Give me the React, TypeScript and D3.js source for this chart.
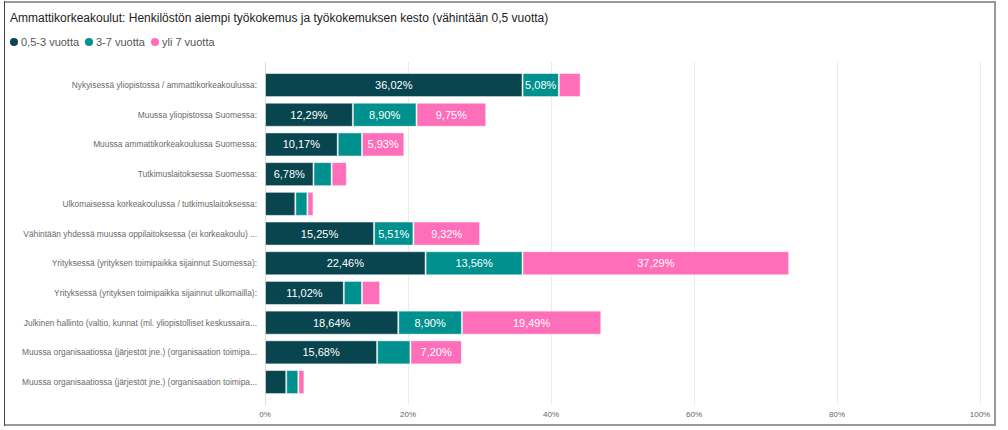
import React, { useRef, useEffect } from 'react';
import * as d3 from 'd3';

const title = 'Ammattikorkeakoulut: Henkilöstön aiempi työkokemus ja työkokemuksen kesto (vähintään 0,5 vuotta)';

const categories = [
  'Nykyisessä yliopistossa / ammattikorkeakoulussa:',
  'Muussa yliopistossa Suomessa:',
  'Muussa ammattikorkeakoulussa Suomessa:',
  'Tutkimuslaitoksessa Suomessa:',
  'Ulkomaisessa korkeakoulussa / tutkimuslaitoksessa:',
  'Vähintään yhdessä muussa oppilaitoksessa (ei korkeakoulu) ...',
  'Yrityksessä (yrityksen toimipaikka sijainnut Suomessa):',
  'Yrityksessä (yrityksen toimipaikka sijainnut ulkomailla):',
  'Julkinen hallinto (valtio, kunnat (ml. yliopistolliset keskussaira...',
  'Muussa organisaatiossa (järjestöt jne.) (organisaation toimipa...',
  'Muussa organisaatiossa (järjestöt jne.) (organisaation toimipa...',
];

const seriesNames = ['0,5-3 vuotta', '3-7 vuotta', 'yli 7 vuotta'];
const short = [36.02, 12.29, 10.17, 6.78, 4.24, 15.25, 22.46, 11.02, 18.64, 15.68, 2.97];
const middle = [5.08, 8.9, 3.39, 2.54, 1.69, 5.51, 13.56, 2.54, 8.9, 4.66, 1.69];
const long = [3.05, 9.75, 5.93, 2.12, 0.85, 9.32, 37.29, 2.54, 19.49, 7.2, 0.85];
const xTicks = [0, 20, 40, 60, 80, 100];
const colors = ['#08454f', '#00908e', '#ff6eb9'];

const W = 1008;
const H = 430;

const App: React.FC = () => {
  const ref = useRef<SVGSVGElement | null>(null);

  useEffect(() => {
    if (!ref.current) return;
    const svg = d3.select(ref.current);
    svg.selectAll('*').remove();
    const font = '"Liberation Sans", Arial, sans-serif';

    // frame
    svg.append('rect').attr('width', W).attr('height', H).attr('fill', '#fff');
    svg.append('line').attr('x1', 4).attr('x2', 996).attr('y1', 2).attr('y2', 2)
      .attr('stroke', '#999').attr('stroke-width', 2);
    svg.append('line').attr('x1', 995).attr('x2', 995).attr('y1', 1).attr('y2', 426)
      .attr('stroke', '#999').attr('stroke-width', 2);
    svg.append('line').attr('x1', 4).attr('x2', 996).attr('y1', 425).attr('y2', 425)
      .attr('stroke', '#999').attr('stroke-width', 2);
    svg.append('line').attr('x1', 4.5).attr('x2', 4.5).attr('y1', 1).attr('y2', 426)
      .attr('stroke', '#444').attr('stroke-width', 1);

    svg.append('text').attr('x', 10).attr('y', 22).attr('font-family', font)
      .attr('font-size', 12).attr('fill', '#222').text(title);

    // legend
    const legend = svg.append('g').attr('font-family', font).attr('font-size', 11).attr('fill', '#555');
    const legendX = [14, 89, 155];
    seriesNames.forEach((name, i) => {
      legend.append('circle').attr('cx', legendX[i]).attr('cy', 42).attr('r', 4).attr('fill', colors[i]);
      legend.append('text').attr('x', legendX[i] + 7).attr('y', 46).attr('fill', '#555').text(name);
    });

    const x = d3.scaleLinear().domain([0, 100]).range([265, 980]);
    const y = d3.scaleBand<string>()
      .domain(categories.map((_, i) => String(i)))
      .range([70.2, 396.9])
      .paddingInner(0.19)
      .paddingOuter(0.095);

    // grid
    svg.append('g').selectAll('line').data(xTicks).enter().append('line')
      .attr('x1', d => x(d) + 0.5).attr('x2', d => x(d) + 0.5)
      .attr('y1', 62).attr('y2', 405)
      .attr('stroke', d => (d === 0 ? '#ddd' : '#ebebeb')).attr('stroke-width', 1);

    svg.append('g').selectAll('text').data(xTicks).enter().append('text')
      .attr('x', d => x(d)).attr('y', 417).attr('text-anchor', 'middle')
      .attr('font-family', font).attr('font-size', 8).attr('fill', '#666')
      .text(d => `${d}%`);

    // category labels
    svg.append('g').selectAll('text').data(categories).enter().append('text')
      .attr('x', 257).attr('y', (_, i) => (y(String(i)) as number) + y.bandwidth() / 2 + 3)
      .attr('text-anchor', 'end').attr('font-family', font).attr('font-size', 8.4).attr('fill', '#6a6a6a')
      .text(d => d);

    const rows = categories.map((c, i) => ({ key: String(i), s0: short[i], s1: middle[i], s2: long[i] }));
    const stack = d3.stack<any>().keys(['s0', 's1', 's2'])(rows);

    stack.forEach((layer, li) => {
      const g = svg.append('g');
      layer.forEach((seg: any) => {
        const key = seg.data.key;
        const x0 = x(seg[0]);
        const x1 = x(seg[1]);
        const yy = y(key) as number;
        g.append('rect').attr('x', x0 + 0.5).attr('y', yy + 0.5)
          .attr('width', Math.max(0, x1 - x0 - 1)).attr('height', y.bandwidth() - 1)
          .attr('fill', colors[li]).attr('stroke', 'rgba(255,255,255,0.5)').attr('stroke-width', 1);
        const v = seg[1] - seg[0];
        if (v >= 5) {
          g.append('text').attr('x', (x0 + x1) / 2).attr('y', yy + y.bandwidth() / 2 + 4)
            .attr('text-anchor', 'middle').attr('font-family', font).attr('font-size', 11)
            .attr('fill', '#fff').text(v.toFixed(2).replace('.', ',') + '%');
        }
      });
    });
  }, []);

  return (
    <div style={{ position: 'absolute', left: 0, top: 0 }}>
      <svg ref={ref} width={W} height={H} />
    </div>
  );
};

export default App;
